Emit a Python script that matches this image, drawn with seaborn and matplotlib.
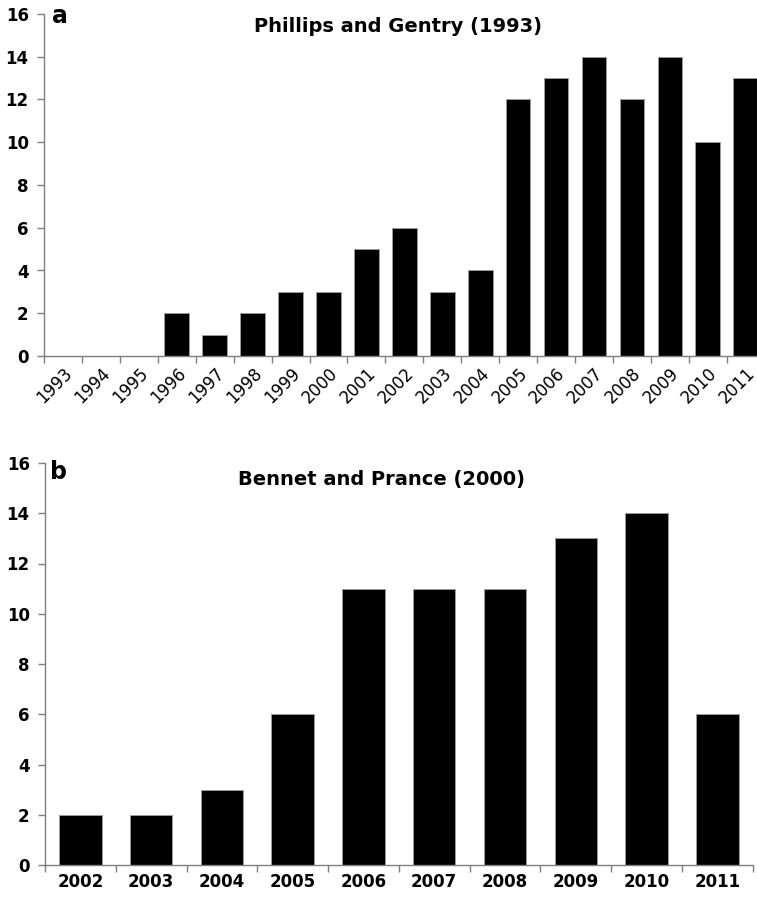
import numpy as np
import pandas as pd
import matplotlib
matplotlib.use("Agg")
import matplotlib.pyplot as plt
import seaborn as sns

# ---------- DATA ----------
years_a = [str(y) for y in range(1993, 2012)]
counts_a = [0, 0, 0, 2, 1, 2, 3, 3, 5, 6, 3, 4, 12, 13, 14, 12, 14, 10, 13]
title_a = "Phillips and Gentry (1993)"

years_b = [str(y) for y in range(2002, 2012)]
counts_b = [2, 2, 3, 6, 11, 11, 11, 13, 14, 6]
title_b = "Bennet and Prance (2000)"

yticks = [0, 2, 4, 6, 8, 10, 12, 14, 16]

sns.set_style("white")
plt.rcParams["font.family"] = ["DejaVu Sans"]
plt.rcParams["text.color"] = "black"

W, H = 757, 897
fig = plt.figure(figsize=(W / 100, H / 100), dpi=100)

# axes placed in pixel units
ax_a = fig.add_axes([44 / W, 1 - 356 / H, 720.7 / W, 342 / H])
ax_b = fig.add_axes([45 / W, 1 - 865 / H, 707.7 / W, 402 / H])

AXIS_GREY = "#7f7f7f"


def draw_panel(ax, years, counts, width, rot):
    df = pd.DataFrame({"year": years, "n": counts})
    sns.barplot(data=df, x="year", y="n", color="black", width=width,
                edgecolor="#9a9a9a", linewidth=0.7, saturation=1, ax=ax)
    n = len(years)
    ax.set_xlim(-0.5, n - 0.5)
    ax.set_ylim(0, 16)
    ax.set_xlabel("")
    ax.set_ylabel("")
    # ticks on category boundaries, labels at centres
    ax.set_xticks(np.arange(n + 1) - 0.5)
    ax.set_xticklabels([])
    ax.set_xticks(np.arange(n), labels=years, minor=True)
    ax.tick_params(axis="x", which="major", direction="out", length=5,
                   width=1, color=AXIS_GREY, bottom=True)
    ax.tick_params(axis="x", which="minor", length=0, pad=6, labelcolor="black")
    ax.set_yticks(yticks)
    ax.set_yticklabels([str(t) for t in yticks], fontsize=12, fontweight="bold")
    ax.tick_params(axis="y", direction="out", length=5, width=1,
                   color=AXIS_GREY, left=True, pad=6, labelcolor="black")
    sns.despine(ax=ax)
    for s in ["left", "bottom"]:
        ax.spines[s].set_color(AXIS_GREY)
        ax.spines[s].set_linewidth(1)
    if rot:
        for lbl in ax.get_xticklabels(minor=True):
            lbl.set_rotation(45)
            lbl.set_ha("right")
            lbl.set_va("top")
            lbl.set_rotation_mode("anchor")
            lbl.set_fontsize(12)
    else:
        for lbl in ax.get_xticklabels(minor=True):
            lbl.set_fontsize(12)
            lbl.set_fontweight("bold")


draw_panel(ax_a, years_a, counts_a, 0.65, True)
draw_panel(ax_b, years_b, counts_b, 0.6, False)

# panel letters and titles
fig.text(52 / W, 1 - 23 / H, "a", fontsize=17, fontweight="bold",
         color="black", va="baseline")
fig.text(398 / W, 1 - 32 / H, title_a, fontsize=14, fontweight="bold",
         color="black", ha="center", va="baseline")
fig.text(50 / W, 1 - 479 / H, "b", fontsize=17, fontweight="bold",
         color="black", va="baseline")
fig.text(382 / W, 1 - 485 / H, title_b, fontsize=14, fontweight="bold",
         color="black", ha="center", va="baseline")

fig.savefig("out.png", dpi=100)
plt.close(fig)
